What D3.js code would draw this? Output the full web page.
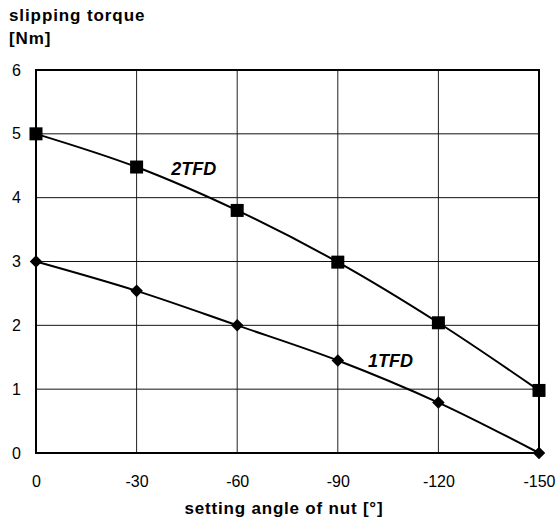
<!DOCTYPE html>
<html>
<head>
<meta charset="utf-8">
<script src="https://cdn.jsdelivr.net/npm/d3@7"></script>
<style>
body { margin: 0; background: #fff; }
text { font-family: "Liberation Sans", Arial, sans-serif; fill: #000; }
</style>
</head>
<body>
<svg id="chart" width="557" height="525"></svg>
<script>
var angles = [0, -30, -60, -90, -120, -150];
var torque2TFD = [5.0, 4.48, 3.80, 2.99, 2.04, 0.98];
var torque1TFD = [3.0, 2.54, 2.0, 1.45, 0.79, 0.0];
var yTicks = [0, 1, 2, 3, 4, 5, 6];

var plotLeft = 36, plotRight = 539, plotTop = 70, plotBottom = 453;

var svg = d3.select("#chart");

var x = d3.scaleLinear().domain([0, -150]).range([plotLeft, plotRight]);
var y = d3.scaleLinear().domain([0, 6]).range([plotBottom, plotTop]);

// grid
svg.selectAll("line.vgrid")
	.data(angles)
	.enter()
	.append("line")
	.attr("class", "vgrid")
	.attr("x1", function(d) { return x(d); })
	.attr("x2", function(d) { return x(d); })
	.attr("y1", plotTop)
	.attr("y2", plotBottom)
	.attr("stroke", "#222")
	.attr("stroke-width", 1);

svg.selectAll("line.hgrid")
	.data(yTicks)
	.enter()
	.append("line")
	.attr("class", "hgrid")
	.attr("x1", plotLeft)
	.attr("x2", plotRight)
	.attr("y1", function(d) { return y(d); })
	.attr("y2", function(d) { return y(d); })
	.attr("stroke", "#111")
	.attr("stroke-width", 1);

// frame
svg.append("rect")
	.attr("x", plotLeft)
	.attr("y", plotTop)
	.attr("width", plotRight - plotLeft)
	.attr("height", plotBottom - plotTop)
	.attr("fill", "none")
	.attr("stroke", "#000")
	.attr("stroke-width", 2);

// axes
var yAxis = d3.axisLeft(y).tickValues(yTicks).tickSize(0).tickPadding(15)
	.tickFormat(function(d) { return String(d); });
svg.append("g")
	.attr("transform", "translate(" + plotLeft + ",0)")
	.call(yAxis)
	.call(function(g) { g.select(".domain").remove(); })
	.selectAll("text")
	.attr("font-size", "16px")
	.attr("font-family", "Liberation Sans, Arial, sans-serif")
	.attr("fill", "#000");

var xAxis = d3.axisBottom(x).tickValues(angles).tickSize(0).tickPadding(23)
	.tickFormat(function(d) { return String(d); });
svg.append("g")
	.attr("transform", "translate(0," + plotBottom + ")")
	.call(xAxis)
	.call(function(g) { g.select(".domain").remove(); })
	.selectAll("text")
	.attr("font-size", "16px")
	.attr("font-family", "Liberation Sans, Arial, sans-serif")
	.attr("fill", "#000");

// series
var line = d3.line()
	.x(function(d) { return x(d[0]); })
	.y(function(d) { return y(d[1]); })
	.curve(d3.curveCatmullRom.alpha(0.5));

var data2 = d3.zip(angles, torque2TFD);
var data1 = d3.zip(angles, torque1TFD);

svg.append("path")
	.datum(data2)
	.attr("d", line)
	.attr("fill", "none")
	.attr("stroke", "#000")
	.attr("stroke-width", 2);

svg.append("path")
	.datum(data1)
	.attr("d", line)
	.attr("fill", "none")
	.attr("stroke", "#000")
	.attr("stroke-width", 2);

svg.selectAll("rect.sq")
	.data(data2)
	.enter()
	.append("rect")
	.attr("class", "sq")
	.attr("x", function(d) { return x(d[0]) - 6.5; })
	.attr("y", function(d) { return y(d[1]) - 6.5; })
	.attr("width", 13)
	.attr("height", 13)
	.attr("fill", "#000");

var diamond = d3.symbol().type(d3.symbolDiamond2).size(100);
svg.selectAll("path.dia")
	.data(data1)
	.enter()
	.append("path")
	.attr("class", "dia")
	.attr("transform", function(d) { return "translate(" + x(d[0]) + "," + y(d[1]) + ")"; })
	.attr("d", diamond)
	.attr("fill", "#000");

// series labels
svg.append("text")
	.attr("x", x(-40.3))
	.attr("y", y(4.355))
	.attr("font-size", "18px")
	.attr("font-weight", "bold")
	.attr("font-style", "italic")
	.text("2TFD");

svg.append("text")
	.attr("x", x(-99))
	.attr("y", y(1.347))
	.attr("font-size", "18px")
	.attr("font-weight", "bold")
	.attr("font-style", "italic")
	.text("1TFD");

// titles
svg.append("text")
	.attr("x", 9)
	.attr("y", 21)
	.attr("font-size", "17px")
	.attr("font-weight", "bold")
	.attr("letter-spacing", "0.9px")
	.text("slipping torque");

svg.append("text")
	.attr("x", 9)
	.attr("y", 44)
	.attr("font-size", "17px")
	.attr("font-weight", "bold")
	.attr("letter-spacing", "0.9px")
	.text("[Nm]");

svg.append("text")
	.attr("x", 284)
	.attr("y", 514)
	.attr("text-anchor", "middle")
	.attr("font-size", "17px")
	.attr("font-weight", "bold")
	.attr("letter-spacing", "0.8px")
	.text("setting angle of nut [°]");
</script>
</body>
</html>
